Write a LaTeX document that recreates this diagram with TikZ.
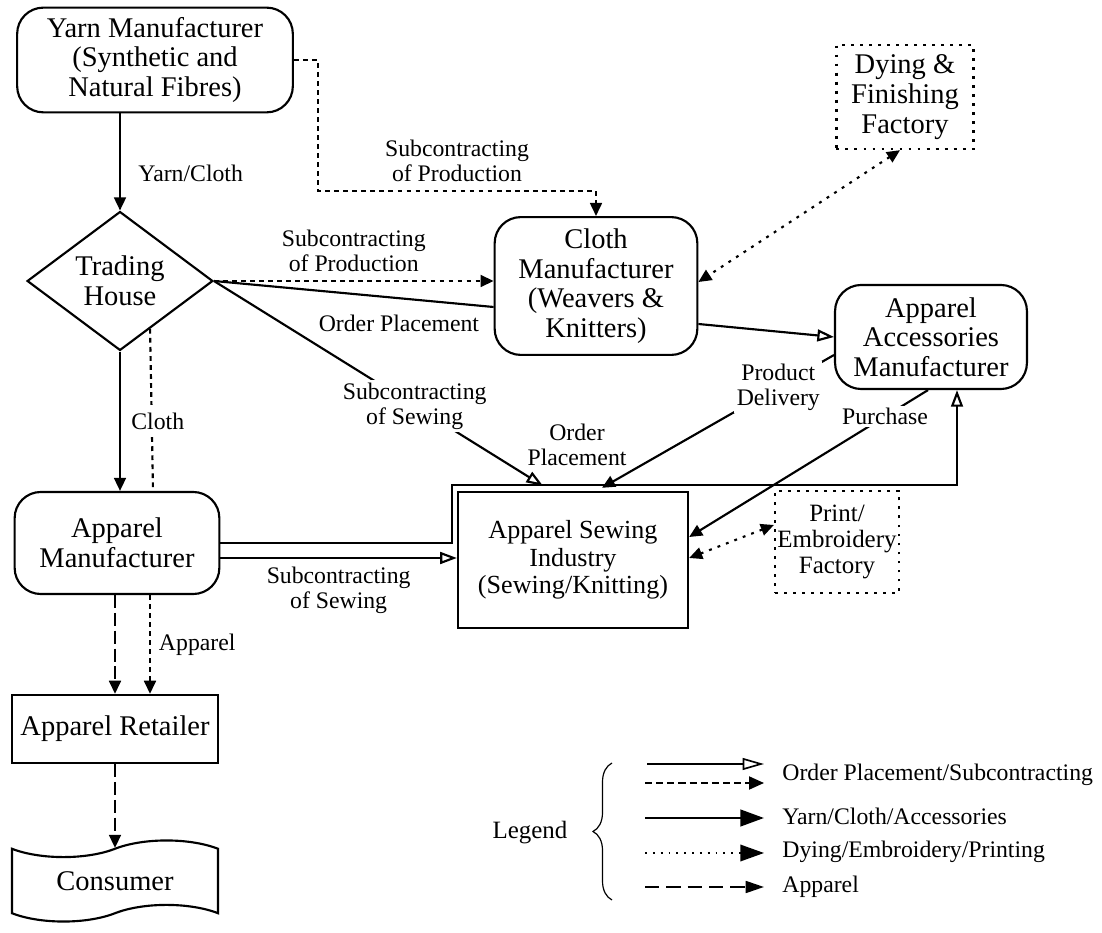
\documentclass[tikz,border=0pt]{standalone}
\usepackage{fontspec}
\setmainfont{Liberation Serif}
\usetikzlibrary{arrows.meta, positioning, shapes.geometric, shapes.symbols, calc, decorations.pathreplacing}

\begin{document}
\begin{tikzpicture}[x=0.0148cm, y=-0.0148cm,
    font=\fontsize{12}{12.5}\selectfont,
    rbox/.style={draw, line width=0.9pt, rounded corners=11pt, align=center, inner sep=2pt},
    pbox/.style={draw, line width=0.9pt, align=center, inner sep=2pt},
    dbox/.style={draw, line width=1pt, dash pattern=on 1.2pt off 2.6pt, align=center, inner sep=1pt},
    house/.style={draw, diamond, line width=0.9pt, align=center, inner sep=0pt, minimum width=2.75cm, minimum height=1.89cm},
    lbl/.style={font=\fontsize{10}{10.5}\selectfont, align=center},
    flow/.style={-{Triangle[length=5.5pt,width=5pt]}, line width=0.9pt},
    order/.style={-{Triangle[open,length=7pt,width=5pt]}, line width=0.9pt},
    subc/.style={-{Triangle[length=5.5pt,width=5pt]}, line width=0.9pt, dash pattern=on 2pt off 1.8pt},
    dye/.style={{Triangle[length=5.5pt,width=5pt]}-{Triangle[length=5.5pt,width=5pt]}, line width=0.9pt, dash pattern=on 1.2pt off 2.6pt},
    wear/.style={-{Triangle[length=5.5pt,width=5pt]}, line width=0.9pt, dash pattern=on 5.5pt off 2pt}
]
    \useasboundingbox (0,0) rectangle (1102,933);

    % -- Nodes --
    \node[rbox, minimum width=4.08cm, minimum height=1.55cm] (yarn) at (155,60) {Yarn Manufacturer\\(Synthetic and\\Natural Fibres)};
    \node[house] (trade) at (120,281) {Trading\\House};
    \node[rbox, minimum width=3.0cm, minimum height=2.04cm] (cloth) at (596,286) {Cloth\\Manufacturer\\(Weavers \&\\Knitters)};
    \node[dbox, minimum width=2.03cm, minimum height=1.54cm] (dying) at (905,97) {Dying \&\\Finishing\\Factory};
    \node[rbox, minimum width=2.84cm, minimum height=1.54cm] (acc) at (931,337) {Apparel\\Accessories\\Manufacturer};
    \node[rbox, minimum width=3.03cm, minimum height=1.51cm] (appm) at (117,543) {Apparel\\Manufacturer};
    \node[pbox, line width=1.1pt, font=\fontsize{11}{11.5}\selectfont, minimum width=3.40cm, minimum height=2.01cm] (sewing) at (573,560) {Apparel Sewing\\Industry\\(Sewing/Knitting)};
    \node[dbox, font=\fontsize{10.5}{11}\selectfont, minimum width=1.78cm, minimum height=1.51cm] (print) at (837,542) {Print/\\Embroidery\\Factory};
    \node[pbox, minimum width=3.05cm, minimum height=1.01cm] (retail) at (115,729) {Apparel Retailer};
    \node[draw, tape, tape bend height=7pt, line width=0.9pt, minimum width=3.05cm, minimum height=1.2cm] (consumer) at (115,881) {Consumer};

    % -- Yarn / trading house --
    \coordinate (bend) at (318,191);
    \draw[flow] (trade.north |- yarn.south) -- node[lbl, right, pos=0.62, xshift=4pt] {Yarn/Cloth} (trade.north);
    \draw[subc] (yarn.east) -| (bend) -- node[lbl, above] {Subcontracting\\of Production} (bend -| cloth.north) -- (cloth.north);
    \draw[subc] (trade.east) -- node[lbl, above] {Subcontracting\\of Production} (trade.east -| cloth.west);
    \draw[line width=0.9pt] (trade.east) -- node[lbl, pos=0.98, below left] {Order Placement} ($(cloth.west)+(0,21)$);
    \draw[order] (trade.east) -- node[lbl, pos=0.61, fill=white, inner sep=1pt] {Subcontracting\\of Sewing} ($(sewing.north)+(-30,-5)$);
    \draw[subc, -] ($(trade.south)!0.32!(trade.east)$) -- ($(appm.north)+(36,0)$);
    \draw[flow] (trade.south) -- node[lbl, right, fill=white, xshift=1pt] {Cloth} (trade.south |- appm.north);

    % -- Cloth, dying, accessories --
    \draw[dye] ($(dying.south)+(-5,0)$) -- ($(cloth.east)+(0,-4)$);
    \draw[order] ($(cloth.east)+(0,38)$) -- (acc.west);
    \draw[flow] ($(acc.west)+(0,18)$) -- node[lbl, pos=0.24, fill=white, inner sep=1pt] {Product\\Delivery} ($(sewing.north)+(29,-3)$);
    \draw[flow] ($(acc.south)+(-3,0)$) -- node[lbl, pos=0.18, fill=white, inner sep=1pt] {Purchase} ($(sewing.east)+(0,-23)$);

    % -- Apparel manufacturer --
    \draw[order] (appm.east) -| ($(sewing.north west)+(-5,-6)$) -| ($(acc.south)+(26,0)$);
    \node[lbl] (olab) at (577,445) {Order\\Placement};
    \draw[order] ($(appm.east)+(0,15)$) -- node[lbl, below] {Subcontracting\\of Sewing} ($(sewing.west)+(0,-2)$);
    \draw[dye] ($(print.west)+(0,-17)$) -- ($(sewing.east)+(0,-2)$);
    \draw[wear] (retail.north |- appm.south) -- (retail.north);
    \draw[subc] ($(appm.south)+(33,0)$) -- node[lbl, right] {Apparel} ($(retail.north)+(35,0)$);
    \draw[wear] (retail.south) -- (consumer.north);

    % -- Legend --
    \node[font=\fontsize{10.5}{11}\selectfont] (legend) at (530,833) {Legend};
    \draw[line width=0.5pt, decorate, decoration={brace, amplitude=8pt}] (612,900) -- (612,763);
    \draw[line width=0.7pt, -{Triangle[open,length=9pt,width=5pt]}] (647,764) -- (764,764);
    \draw[line width=0.7pt, dash pattern=on 3pt off 1.7pt, -{Triangle[length=6.3pt,width=5.5pt]}] (645,783) -- (764,783);
    \draw[line width=1.1pt, -{Triangle[length=10pt,width=7pt]}] (645,818) -- (764,818);
    \draw[line width=0.7pt, dash pattern=on 0.8pt off 2.5pt, -{Triangle[length=10pt,width=7pt]}] (645,853) -- (764,853);
    \draw[line width=0.9pt, dash pattern=on 6pt off 3pt, -{Triangle[length=7.7pt,width=5pt]}] (645,887) -- (764,887);
    \node[lbl, anchor=west] (key1) at (774,775) {Order Placement/Subcontracting};
    \node[lbl, anchor=west] (key2) at (774,816) {Yarn/Cloth/Accessories};
    \node[lbl, anchor=west] (key3) at (774,852) {Dying/Embroidery/Printing};
    \node[lbl, anchor=west] (key4) at (774,887) {Apparel};
\end{tikzpicture}
\end{document}
